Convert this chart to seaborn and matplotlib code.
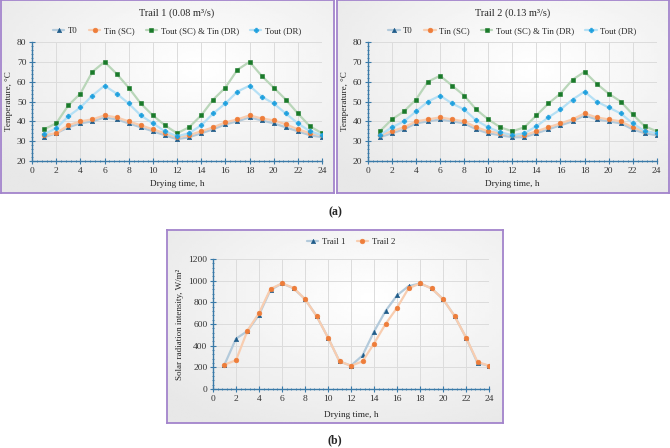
import numpy as np
import pandas as pd
import matplotlib
matplotlib.use("Agg")
import matplotlib.pyplot as plt
from matplotlib.ticker import MultipleLocator
import seaborn as sns

# drying time, h
hours = list(range(1, 25))

# Trail 1 (0.08 m3/s) temperatures, degC
t1_T0 = [32, 34, 37, 39, 40, 42, 41, 39, 37, 35, 33, 31, 32, 34, 36, 38.5, 40, 42, 40.5, 39, 37, 35, 33, 32]
t1_Tin_sc = [33, 34, 38, 40, 41, 43, 42, 40, 38, 36, 34, 32, 33, 35, 37, 39.5, 41, 43, 41.5, 40.5, 38.5, 36, 34, 33]
t1_Tout_sc = [36, 39, 48, 54, 65, 70, 64, 57, 49, 43, 38, 34, 37, 43, 51, 57, 66, 70, 63, 57, 51, 44, 37.5, 34]
t1_Tout_dr = [33.5, 36.5, 42.5, 47, 53, 58, 54, 49, 43, 39, 35, 32.5, 34, 38, 44, 49, 55, 58, 52.5, 49, 44, 39, 35, 33]

# Trail 2 (0.13 m3/s) temperatures, degC
t2_T0 = [32, 34, 36, 39, 40, 41, 40, 39, 36, 34, 33, 32, 32, 34, 36, 38, 40, 43, 41, 40, 39, 36, 34, 33]
t2_Tin_sc = [33, 35, 37, 40, 41, 42, 41, 40, 37, 35, 34, 33, 33, 35, 37, 39, 41, 44, 42, 41, 40, 37, 35, 34]
t2_Tout_sc = [35, 41, 45, 51, 60, 63, 58, 53, 46, 41, 37, 35, 37, 43, 49, 54, 61, 65, 59, 54, 50, 43.5, 37.5, 35]
t2_Tout_dr = [33, 37, 40, 45, 50, 53, 49, 46, 40.5, 37, 34.5, 33, 34, 37.5, 42, 46, 51, 55, 50, 47, 44, 39, 35, 34]

# solar radiation intensity, W/m2
solar_t1 = [225, 465, 535, 685, 915, 975, 930, 830, 675, 475, 255, 215, 310, 530, 720, 865, 950, 975, 930, 830, 675, 475, 240, 215]
solar_t2 = [225, 265, 540, 700, 925, 975, 935, 830, 675, 475, 255, 215, 255, 420, 600, 750, 930, 975, 930, 830, 675, 475, 250, 215]

series_names = ["T0", "Tin (SC)", "Tout (SC) & Tin (DR)", "Tout (DR)"]
line_cols = ["#b3cadb", "#f8cdb0", "#b9d6b9", "#b5e0f5"]
mark_cols = ["#1f5c8a", "#ee7d3a", "#1a7a2a", "#1ea0de"]
markers = ["^", "o", "s", "P"]
msizes = [3.2, 3.4, 3.4, 3.4]

sns.set_theme(style="white")
plt.rcParams["font.family"] = ["Liberation Serif", "DejaVu Serif"]

fig = plt.figure(figsize=(6.7, 4.48), dpi=100)

axis_blue = "#3a7aa8"
purple = "#a384cc"


def panel_bg(rect):
    bg = fig.add_axes(rect, zorder=-5)
    yy, xx = np.mgrid[0:1:100j, 0:1:100j]
    g = 1 - 0.09 * np.clip(np.hypot(xx - 0.6, yy - 0.35) * 1.3, 0, 1)
    bg.imshow(g, cmap="gray", vmin=0, vmax=1, aspect="auto", extent=[0, 1, 0, 1])
    bg.set_xticks([])
    bg.set_yticks([])
    for s in bg.spines.values():
        s.set_color(purple)
        s.set_linewidth(1.3)
    return bg


def style_axes(ax, xmaj, xmin_, ymaj, ymin_):
    ax.set_facecolor("none")
    ax.xaxis.set_major_locator(MultipleLocator(xmaj))
    ax.xaxis.set_minor_locator(MultipleLocator(xmin_))
    ax.yaxis.set_major_locator(MultipleLocator(ymaj))
    ax.yaxis.set_minor_locator(MultipleLocator(ymin_))
    ax.grid(True, which="major", color="#dcdcdc", lw=0.7)
    for s in ["top", "right"]:
        ax.spines[s].set_visible(False)
    for s in ["left", "bottom"]:
        ax.spines[s].set_color(axis_blue)
        ax.spines[s].set_linewidth(1.0)
    ax.tick_params(which="major", direction="inout", length=4, width=0.8, color=axis_blue,
                   labelsize=6.8, labelcolor="#333333", pad=2, left=True, bottom=True)
    ax.tick_params(which="minor", direction="inout", length=2, width=0.6, color=axis_blue,
                   left=True, bottom=True)


def temp_panel(prect, arect, title, data):
    panel_bg(prect)
    ax = fig.add_axes(arect)
    df = pd.DataFrame({"hour": hours})
    for name, vals in zip(series_names, data):
        df[name] = vals
    for i, name in enumerate(series_names):
        sns.lineplot(data=df, x="hour", y=name, ax=ax, color=line_cols[i], lw=1.6,
                     marker=markers[i], markersize=msizes[i], markerfacecolor=mark_cols[i],
                     markeredgecolor=mark_cols[i], markeredgewidth=0.4, label=name)
    ax.set_xlim(0, 24)
    ax.set_ylim(20, 80)
    style_axes(ax, 2, 0.4, 10, 2)
    ax.set_xlabel("Drying time, h", fontsize=6.7, labelpad=4)
    ax.set_ylabel("Temperature, \u00b0C", fontsize=6.5, labelpad=3)
    ax.text(0.5, 1.245, title, transform=ax.transAxes, ha="center", va="center", fontsize=7.4)
    ax.legend(loc="center", bbox_to_anchor=(0.5, 1.092), ncol=4, frameon=False, fontsize=6.3,
              handlelength=1.3, handletextpad=0.4, columnspacing=1.3)
    return ax


temp_panel([0.0015, 0.569, 0.497, 0.43], [0.0478, 0.6406, 0.4328, 0.2656],
           "Trail 1 (0.08 m\u00b3/s)", [t1_T0, t1_Tin_sc, t1_Tout_sc, t1_Tout_dr])
temp_panel([0.503, 0.569, 0.4955, 0.43], [0.549, 0.6406, 0.4313, 0.2656],
           "Trail 2 (0.13 m\u00b3/s)", [t2_T0, t2_Tin_sc, t2_Tout_sc, t2_Tout_dr])

fig.text(0.5, 1 - 212 / 448, "(a)", ha="center", va="center", fontsize=8.5, fontweight="bold")

# solar radiation panel
panel_bg([0.249, 0.0558, 0.5015, 0.4308])
axb = fig.add_axes([0.3179, 0.1317, 0.412, 0.290])
sdf = pd.DataFrame({"hour": hours, "Trail 1": solar_t1, "Trail 2": solar_t2})
sns.lineplot(data=sdf, x="hour", y="Trail 1", ax=axb, color=line_cols[0], lw=1.6, marker="^",
             markersize=3.2, markerfacecolor=mark_cols[0], markeredgecolor=mark_cols[0],
             markeredgewidth=0.4, label="Trail 1")
sns.lineplot(data=sdf, x="hour", y="Trail 2", ax=axb, color=line_cols[1], lw=1.6, marker="o",
             markersize=3.4, markerfacecolor=mark_cols[1], markeredgecolor=mark_cols[1],
             markeredgewidth=0.4, label="Trail 2")
axb.set_xlim(0, 24)
axb.set_ylim(0, 1200)
style_axes(axb, 2, 0.4, 200, 40)
axb.set_xlabel("Drying time, h", fontsize=6.7, labelpad=6)
axb.set_ylabel("Solar radiation intensity, W/m\u00b2", fontsize=6.5, labelpad=3)
axb.legend(loc="center", bbox_to_anchor=(0.5, 1.13), ncol=2, frameon=False, fontsize=6.3,
           handlelength=1.3, handletextpad=0.4, columnspacing=1.3)

fig.text(0.5, 1 - 440 / 448, "(b)", ha="center", va="center", fontsize=8.5, fontweight="bold")

fig.savefig("out.png", dpi=100)
